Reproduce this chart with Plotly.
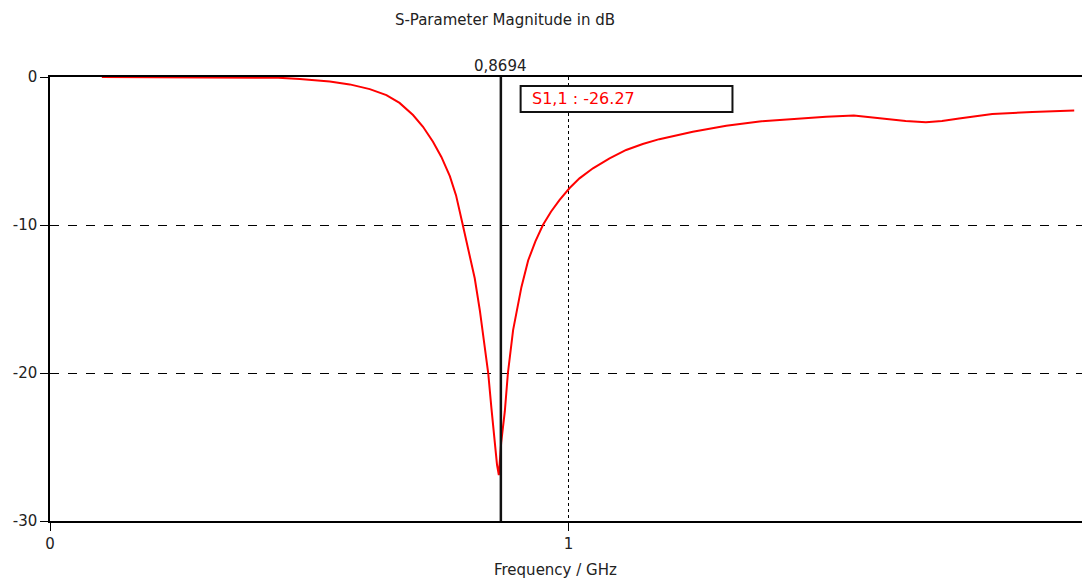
import plotly.graph_objects as go

# S11 magnitude (dB) vs frequency (GHz)
freq = [0.10, 0.20, 0.30, 0.40, 0.44, 0.4817, 0.5395, 0.578, 0.6166, 0.6487,
        0.674, 0.700, 0.7193, 0.7385, 0.7547, 0.771, 0.783, 0.796, 0.808,
        0.819, 0.829, 0.838, 0.845, 0.851, 0.857, 0.862, 0.8655, 0.870,
        0.877, 0.883, 0.893, 0.909, 0.922, 0.936, 0.9505, 0.966, 0.9827,
        1.002, 1.021, 1.047, 1.079, 1.111, 1.143, 1.175, 1.2395, 1.304,
        1.368, 1.432, 1.4965, 1.55, 1.605, 1.65, 1.689, 1.72, 1.753, 1.817,
        1.894, 1.975]
s11 = [0.0, 0.0, 0.0, -0.02, -0.05, -0.13, -0.3, -0.5, -0.82, -1.22,
       -1.75, -2.57, -3.36, -4.37, -5.4, -6.7, -8.0, -10.0, -11.8,
       -13.6, -15.8, -18.2, -20.0, -22.3, -24.5, -26.2, -26.9, -24.7,
       -22.6, -20.0, -17.1, -14.2, -12.4, -11.1, -10.0, -9.1, -8.3,
       -7.5, -6.85, -6.17, -5.5, -4.93, -4.53, -4.2, -3.7, -3.3,
       -3.0, -2.84, -2.68, -2.6, -2.8, -2.97, -3.06, -2.98, -2.8, -2.5,
       -2.36, -2.27]

marker_f = 0.8694
marker_label = "0,8694"
marker_text = "S1,1 : -26.27"

x_ticks = [0, 1]
y_ticks = [0, -10, -20, -30]

font_family = "DejaVu Sans"
fs = 15

fig = go.Figure()
fig.add_trace(go.Scatter(x=freq, y=s11, mode="lines",
                         line=dict(color="#ff0000", width=2),
                         showlegend=False, hoverinfo="skip"))

fig.update_layout(
    width=1082, height=578,
    margin=dict(l=50, r=0, t=77, b=57),
    paper_bgcolor="white", plot_bgcolor="white",
    font=dict(family=font_family, size=fs, color="#222222"),
    title=dict(text="S-Parameter Magnitude in dB", xref="container", x=505/1082,
               xanchor="center", yref="container", y=1-20/578, yanchor="middle",
               font=dict(size=fs, color="#222222")),
    xaxis=dict(range=[0, 1.99], tickvals=x_ticks, ticktext=[str(v) for v in x_ticks],
               showgrid=True, gridcolor="black", griddash="dot", gridwidth=1,
               showline=True, linecolor="black", linewidth=1.5, mirror=True,
               ticks="outside", ticklen=8, tickcolor="black", tickwidth=1,
               zeroline=False, tickfont=dict(size=fs)),
    yaxis=dict(range=[-30, 0], tickvals=y_ticks, ticktext=[str(v) for v in y_ticks],
               showgrid=True, gridcolor="black", griddash="dash", gridwidth=1,
               showline=True, linecolor="black", linewidth=1.5,
               ticks="outside", ticklen=8, tickcolor="black", tickwidth=1,
               zeroline=False, tickfont=dict(size=fs)),
)

# marker line
fig.add_shape(type="line", x0=marker_f, x1=marker_f, y0=-30, y1=0,
              xref="x", yref="y", line=dict(color="#111111", width=2.5))
fig.add_annotation(x=marker_f, y=0, xref="x", yref="y", text=marker_label,
                   showarrow=False, yanchor="bottom", yshift=0,
                   font=dict(size=fs, color="#222222"))
# value box
fig.add_shape(type="rect", x0=0.9075, x1=1.316, y0=-0.6, y1=-2.36,
              xref="x", yref="y", line=dict(color="#111111", width=2),
              fillcolor="white")
fig.add_annotation(x=0.925, y=-1.48, xref="x", yref="y", text=marker_text,
                   showarrow=False, xanchor="left", yanchor="middle",
                   font=dict(size=fs + 1, color="#ff0000"))
# x-axis title
fig.add_annotation(x=(555-50)/1032, y=-(570-521)/444, xref="paper", yref="paper",
                   text="Frequency / GHz", showarrow=False, yanchor="middle",
                   font=dict(size=fs, color="#222222"))

fig.write_html("out.html")
